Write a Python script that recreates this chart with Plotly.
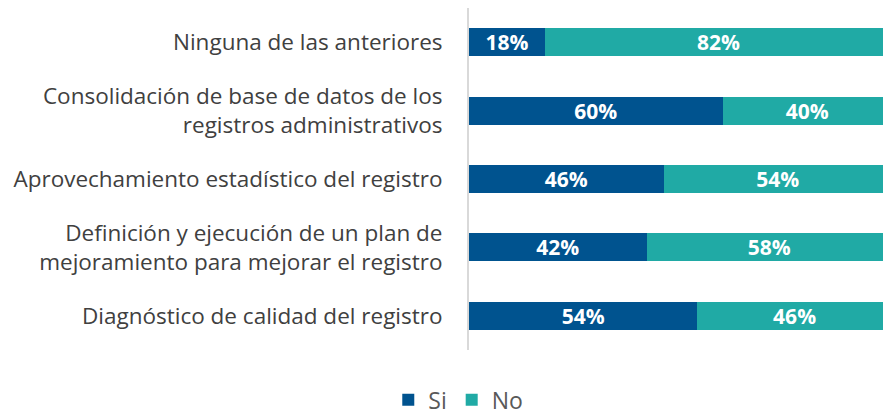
import plotly.graph_objects as go

categories = [
    "Ninguna de las anteriores",
    "Consolidación de base de datos de los<br>registros administrativos",
    "Aprovechamiento estadístico del registro",
    "Definición y ejecución de un plan de<br>mejoramiento para mejorar el registro",
    "Diagnóstico de calidad del registro",
]
si_values = [18, 60, 46, 42, 54]
no_values = [82, 40, 54, 58, 46]

font_family = "Open Sans, Noto Sans, sans-serif"

fig = go.Figure()
fig.add_trace(go.Bar(
    y=categories, x=si_values, name="Si", orientation="h",
    marker=dict(color="#00538F", line=dict(width=0)),
    text=[f"{v}%" for v in si_values], textposition="inside",
    insidetextanchor="middle", constraintext="none",
    textfont=dict(color="white", size=21, family=font_family, weight="bold"),
))
fig.add_trace(go.Bar(
    y=categories, x=no_values, name="No", orientation="h",
    marker=dict(color="#20AAA5", line=dict(width=0)),
    text=[f"{v}%" for v in no_values], textposition="inside",
    insidetextanchor="middle", constraintext="none",
    textfont=dict(color="white", size=21, family=font_family, weight="bold"),
))

fig.update_layout(
    barmode="stack",
    bargap=0.59,
    width=883, height=413,
    margin=dict(l=469, r=0, t=8, b=63),
    paper_bgcolor="white", plot_bgcolor="white",
    font=dict(family=font_family, color="#404040", size=22),
    showlegend=True,
    legend=dict(
        orientation="h", xref="container", yref="container",
        x=0.519, xanchor="center", y=0.032, yanchor="middle",
        font=dict(size=23, color="#595959", family=font_family),
        itemwidth=30, traceorder="normal",
    ),
)
# the reference chart is cropped on the right: the 100% end lies past the edge
fig.update_xaxes(range=[0, 97.9], visible=False, showgrid=False, fixedrange=True)
fig.update_yaxes(
    autorange="reversed", showgrid=False, showline=True,
    linecolor="#D9D9D9", linewidth=2, ticks="", ticklabelstandoff=20,
    tickfont=dict(size=22.5, color="#404040", family=font_family),
)

fig.write_html(
    "out.html",
    config={"displayModeBar": False},
    post_script="document.body.style.margin='0';document.body.style.overflow='hidden';",
)
